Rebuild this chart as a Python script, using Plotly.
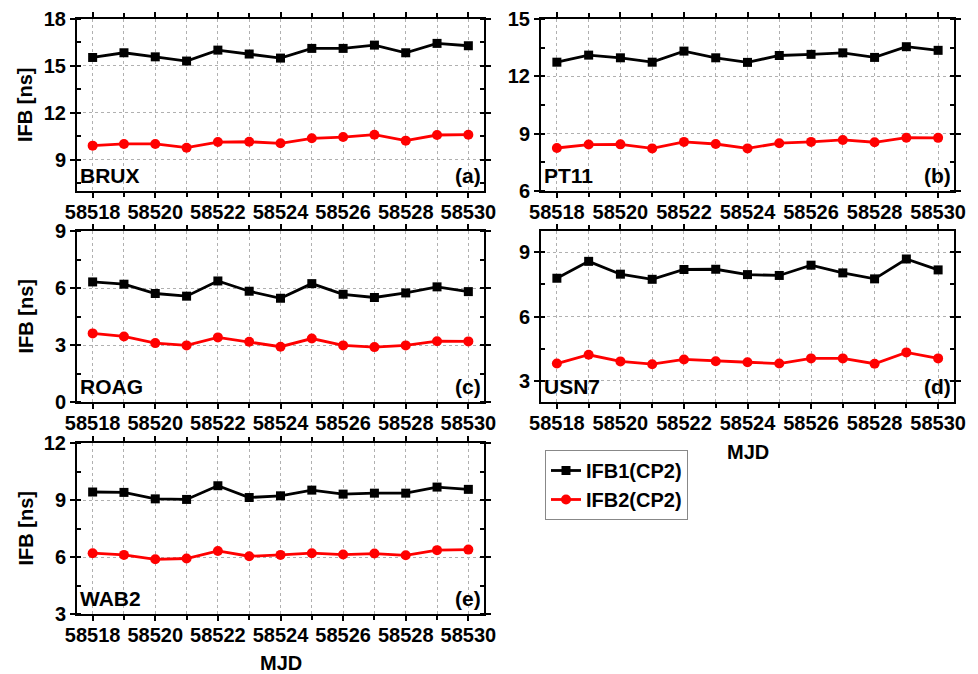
import plotly.graph_objects as go

# MJD days shared by all stations
mjd = list(range(58518, 58531))

stations = ["BRUX", "PT11", "ROAG", "USN7", "WAB2"]
panel_tags = ["(a)", "(b)", "(c)", "(d)", "(e)"]

ifb1_brux = [15.54, 15.84, 15.58, 15.31, 16.01, 15.76, 15.50, 16.12, 16.12, 16.33, 15.84, 16.44, 16.29]
ifb2_brux = [9.90, 10.01, 10.01, 9.77, 10.13, 10.15, 10.05, 10.37, 10.45, 10.60, 10.22, 10.58, 10.60]

ifb1_pt11 = [12.74, 13.11, 12.97, 12.74, 13.32, 12.97, 12.73, 13.09, 13.15, 13.23, 12.99, 13.55, 13.36]
ifb2_pt11 = [8.25, 8.43, 8.44, 8.23, 8.57, 8.46, 8.23, 8.50, 8.57, 8.67, 8.55, 8.79, 8.78]

ifb1_roag = [6.32, 6.20, 5.71, 5.57, 6.37, 5.83, 5.46, 6.23, 5.67, 5.50, 5.74, 6.06, 5.81]
ifb2_roag = [3.61, 3.45, 3.10, 2.98, 3.40, 3.17, 2.91, 3.34, 2.98, 2.89, 2.98, 3.20, 3.19]

ifb1_usn7 = [7.79, 8.58, 7.98, 7.74, 8.20, 8.21, 7.96, 7.92, 8.40, 8.04, 7.76, 8.69, 8.18]
ifb2_usn7 = [3.80, 4.21, 3.90, 3.77, 3.99, 3.91, 3.86, 3.80, 4.04, 4.04, 3.79, 4.32, 4.04]

ifb1_wab2 = [9.42, 9.40, 9.06, 9.03, 9.75, 9.13, 9.22, 9.52, 9.31, 9.36, 9.36, 9.68, 9.56]
ifb2_wab2 = [6.20, 6.11, 5.88, 5.92, 6.32, 6.04, 6.11, 6.20, 6.13, 6.18, 6.09, 6.36, 6.39]

ifb1 = [ifb1_brux, ifb1_pt11, ifb1_roag, ifb1_usn7, ifb1_wab2]
ifb2 = [ifb2_brux, ifb2_pt11, ifb2_roag, ifb2_usn7, ifb2_wab2]

y_ranges = [[7, 18], [6, 15], [0, 9], [2, 10], [3, 12]]
y_ticks = [[9, 12, 15, 18], [6, 9, 12, 15], [0, 3, 6, 9], [3, 6, 9], [3, 6, 9, 12]]
x_ticks = list(range(58518, 58531, 2))

W, H = 978, 674
# panel boxes in pixels: (left, right, top, bottom)
boxes = [
    (77, 484, 19, 191),
    (541, 954, 19, 191),
    (77, 484, 231, 402),
    (541, 954, 231, 402),
    (77, 484, 443, 614),
]

FONT = "Liberation Sans, Arial, sans-serif"
TICK_FONT = dict(family=FONT, size=20, color="black", weight="bold")
LABEL_FONT = dict(family=FONT, size=21, color="black", weight="bold")
GRID = "#b0b0b0"
fig = go.Figure()

for i in range(5):
    xa = "x" if i == 0 else f"x{i + 1}"
    ya = "y" if i == 0 else f"y{i + 1}"
    fig.add_trace(go.Scatter(
        x=mjd, y=ifb1[i], xaxis=xa, yaxis=ya, mode="lines+markers",
        name="IFB1(CP2)", legendgroup="ifb1", showlegend=(i == 0),
        line=dict(color="black", width=2.8),
        marker=dict(symbol="square", size=9, color="black"),
    ))
    fig.add_trace(go.Scatter(
        x=mjd, y=ifb2[i], xaxis=xa, yaxis=ya, mode="lines+markers",
        name="IFB2(CP2)", legendgroup="ifb2", showlegend=(i == 0),
        line=dict(color="#ff0000", width=2.8),
        marker=dict(symbol="circle", size=10, color="#ff0000"),
    ))

layout = {}
for i, (l, r, t, b) in enumerate(boxes):
    key = "" if i == 0 else str(i + 1)
    dom_x = [l / W, r / W]
    dom_y = [1 - b / H, 1 - t / H]
    layout["xaxis" + key] = dict(
        domain=dom_x, anchor="y" + key, range=[58517.5, 58530.5],
        automargin=False,
        tickvals=x_ticks, ticktext=[str(v) for v in x_ticks],
        ticks="outside", ticklen=5, tickwidth=1.5, tickcolor="black",
        ticklabelstandoff=-3,
        showline=True, linecolor="black", linewidth=2, mirror="ticks",
        showgrid=True, gridcolor=GRID, griddash="dot", gridwidth=1,
        minor=dict(dtick=1, tick0=58518, ticks="outside", ticklen=4,
                   tickcolor="black", showgrid=True, gridcolor=GRID,
                   griddash="dot", gridwidth=1),
        tickfont=TICK_FONT,
        zeroline=False,
    )
    layout["yaxis" + key] = dict(
        domain=dom_y, anchor="x" + key, range=y_ranges[i],
        automargin=False,
        tickvals=y_ticks[i],
        ticks="outside", ticklen=5, tickwidth=1.5, tickcolor="black",
        showline=True, linecolor="black", linewidth=2, mirror="ticks",
        showgrid=True, gridcolor=GRID, griddash="dot", gridwidth=1,
        minor=dict(dtick=1.5, tick0=0, ticks="inside", ticklen=4,
                   tickcolor="black", showgrid=False),
        tickfont=TICK_FONT,
        zeroline=False,
    )

annotations = []
for i in range(5):
    key = "" if i == 0 else str(i + 1)
    annotations.append(dict(
        text=stations[i], xref=f"x{key} domain", yref=f"y{key} domain",
        x=0.0, y=0.0, xanchor="left", yanchor="bottom", showarrow=False,
        xshift=1, yshift=2,
        font=LABEL_FONT,
    ))
    annotations.append(dict(
        text=panel_tags[i], xref=f"x{key} domain", yref=f"y{key} domain",
        x=1.0, y=0.0, xanchor="right", yanchor="bottom", showarrow=False,
        xshift=-1, yshift=2,
        font=LABEL_FONT,
    ))

# y-axis titles on the left column
for (l, r, t, b) in (boxes[0], boxes[2], boxes[4]):
    annotations.append(dict(
        text="IFB [ns]", xref="paper", yref="paper",
        x=25 / W, y=1 - (t + b) / 2 / H, textangle=-90,
        xanchor="center", yanchor="middle", showarrow=False,
        font=dict(family=FONT, size=20, color="black", weight="bold"),
    ))

# x-axis titles under the bottom panel of each column
annotations.append(dict(
    text="MJD", xref="paper", yref="paper",
    x=(boxes[4][0] + boxes[4][1]) / 2 / W, y=1 - 663 / H,
    xanchor="center", yanchor="middle", showarrow=False,
    font=dict(family=FONT, size=20, color="black", weight="bold"),
))
annotations.append(dict(
    text="MJD", xref="paper", yref="paper",
    x=(boxes[3][0] + boxes[3][1]) / 2 / W, y=1 - 452 / H,
    xanchor="center", yanchor="middle", showarrow=False,
    font=dict(family=FONT, size=20, color="black", weight="bold"),
))

fig.update_layout(
    width=W, height=H,
    margin=dict(l=0, r=0, t=0, b=0, autoexpand=False),
    paper_bgcolor="white", plot_bgcolor="white",
    showlegend=True,
    legend=dict(
        x=545 / W, y=1 - 450 / H, xanchor="left", yanchor="top",
        bordercolor="#888888", borderwidth=1, bgcolor="white",
        font=dict(family=FONT, size=20, color="black", weight="bold"),
        itemwidth=30, tracegroupgap=0,
    ),
    annotations=annotations,
    **layout,
)

fig.write_html("out.html")
